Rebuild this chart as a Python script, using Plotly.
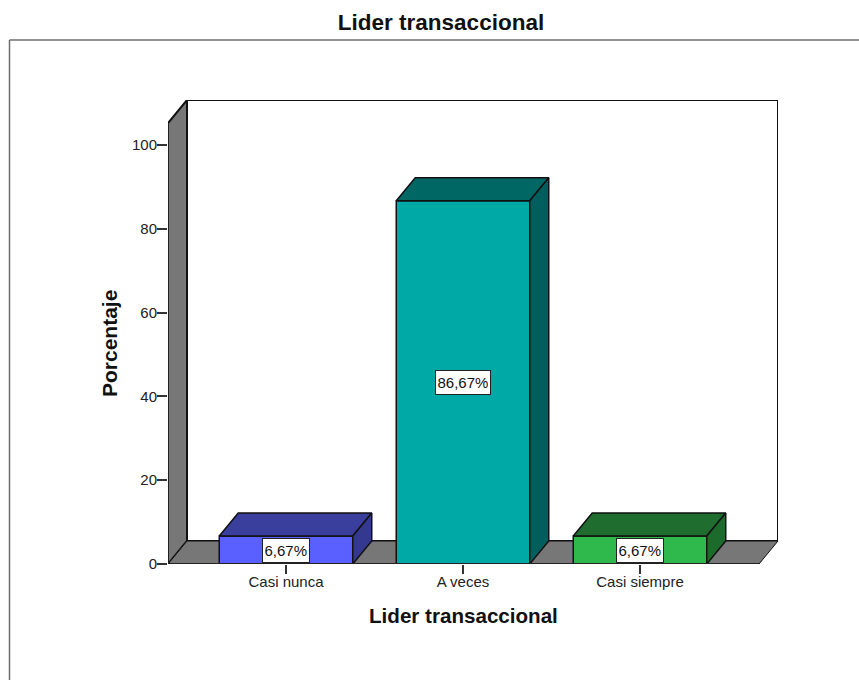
import plotly.graph_objects as go

# Chart data
categories = ["Casi nunca", "A veces", "Casi siempre"]
percentages = [6.67, 86.67, 6.67]
value_labels = ["6,67%", "86,67%", "6,67%"]
y_ticks = [0, 20, 40, 60, 80, 100]

# Bar colours: front face and shaded depth faces
front_colors = ["#5A60FF", "#00A8A6", "#2FB84C"]
top_colors = ["#3A3F9E", "#006765", "#1F6E30"]
side_colors = ["#34398F", "#005F5D", "#1D6B2C"]

WIDTH, HEIGHT = 859, 680
LEFT, RIGHT, TOP, BOTTOM = 168, 778, 100, 564
UNIT_X = 177.0           # pixels per category step
UNIT_Y = 4.19            # pixels per percentage point
CENTER_FIRST = 286.0     # pixel centre of the first category

x_min = (LEFT - CENTER_FIRST) / UNIT_X
x_max = (RIGHT - CENTER_FIRST) / UNIT_X
y_max = (BOTTOM - TOP) / UNIT_Y

# Oblique projection offset of the 3D box, in axis units
dx = 19 / UNIT_X
dy = 23 / UNIT_Y
bar_width = 133.5 / UNIT_X
front_right = x_max - dx
front_top = y_max - dy
EDGE = "#111111"
WALL = "#777777"
FRAME = "#6E6E6E"


def path(points):
    return "M " + " L ".join(f"{x},{y}" for x, y in points) + " Z"


def paper_x(px):
    return (px - LEFT) / (RIGHT - LEFT)


def paper_y(px):
    return (BOTTOM - px) / (BOTTOM - TOP)


fig = go.Figure()

shapes = [
    # Back wall, left wall and floor of the box, beneath the bars
    dict(type="path", xref="x", yref="y", layer="below", fillcolor="white",
         line=dict(color=EDGE, width=2),
         path=path([(x_min + dx, dy), (x_max, dy), (x_max, y_max), (x_min + dx, y_max)])),
    dict(type="path", xref="x", yref="y", layer="below", fillcolor=WALL,
         line=dict(color=EDGE, width=2),
         path=path([(x_min, 0), (x_min + dx, dy), (x_min + dx, y_max), (x_min, front_top)])),
    dict(type="path", xref="x", yref="y", layer="below", fillcolor=WALL,
         line=dict(color=EDGE, width=1),
         path=path([(x_min, 0), (front_right, 0), (x_max, dy), (x_min + dx, dy)])),
    # Outer chart frame
    dict(type="line", xref="paper", yref="paper", layer="below",
         x0=paper_x(9.5), x1=paper_x(9.5), y0=paper_y(HEIGHT), y1=paper_y(40),
         line=dict(color=FRAME, width=1.5)),
    dict(type="line", xref="paper", yref="paper", layer="below",
         x0=paper_x(9.5), x1=paper_x(WIDTH), y0=paper_y(40), y1=paper_y(40),
         line=dict(color=FRAME, width=1.5)),
]

# Front faces of the bars
positions = list(range(len(categories)))
fig.add_trace(go.Bar(
    x=positions, y=percentages, width=bar_width,
    marker=dict(color=front_colors, line=dict(color=EDGE, width=1.5)),
    hoverinfo="skip", showlegend=False,
))

# Top and side faces derived from each bar's value
for pos, value, top_c, side_c in zip(positions, percentages, top_colors, side_colors):
    x0, x1 = pos - bar_width / 2, pos + bar_width / 2
    fig.add_trace(go.Scatter(
        x=[x0, x1, x1 + dx, x0 + dx, x0], y=[value, value, value + dy, value + dy, value],
        mode="lines", fill="toself", fillcolor=top_c, line=dict(color=EDGE, width=1.5),
        hoverinfo="skip", showlegend=False,
    ))
    fig.add_trace(go.Scatter(
        x=[x1, x1 + dx, x1 + dx, x1, x1], y=[0, dy, value + dy, value, 0],
        mode="lines", fill="toself", fillcolor=side_c, line=dict(color=EDGE, width=1.5),
        hoverinfo="skip", showlegend=False,
    ))

# Front edges of the box, kept on top of the plot-area clip
fig.add_trace(go.Scatter(
    x=[x_min, x_min, front_right], y=[front_top, 0, 0],
    mode="lines", line=dict(color="#222222", width=2), cliponaxis=False,
    hoverinfo="skip", showlegend=False,
))

# Boxed value labels at mid-height of each bar
annotations = [
    dict(x=pos, y=value / 2, xref="x", yref="y", text=label, showarrow=False,
         font=dict(family="Liberation Sans", size=15, color="#111111"),
         height=20, bgcolor="white", bordercolor="#222222", borderwidth=1, borderpad=1.5)
    for pos, value, label in zip(positions, percentages, value_labels)
]

# Axis titles sit off-centre relative to the plot area, so they are placed directly
annotations += [
    dict(x=paper_x(463), y=paper_y(615.5), xref="paper", yref="paper", showarrow=False,
         xanchor="center", yanchor="middle",
         text="<b>Lider transaccional</b>", font=dict(size=20.6, color="#111111")),
    dict(x=paper_x(109), y=paper_y(344), xref="paper", yref="paper", showarrow=False,
         xanchor="center", yanchor="middle",
         text="<b>Porcentaje</b>", textangle=-90, font=dict(size=21, color="#111111")),
]

fig.update_layout(
    width=WIDTH, height=HEIGHT,
    margin=dict(l=LEFT, r=WIDTH - RIGHT, t=TOP, b=HEIGHT - BOTTOM, pad=0),
    paper_bgcolor="white", plot_bgcolor="white",
    shapes=shapes, annotations=annotations,
    font=dict(family="Liberation Sans", color="#222222"),
    title=dict(text="<b>Lider transaccional</b>", font=dict(size=22.5, color="#111111"),
               xref="paper", yref="container", x=paper_x(441),
               xanchor="center", y=1 - 22 / HEIGHT, yanchor="middle"),
    xaxis=dict(
        range=[x_min, x_max], tickmode="array", tickvals=positions, ticktext=categories,
        showgrid=False, zeroline=False, showline=False,
        ticks="outside", ticklen=9, tickwidth=1.5, tickcolor="#333333",
        tickfont=dict(size=15, color="#222222"), ticklabelstandoff=-5,
    ),
    yaxis=dict(
        range=[0, y_max], tickmode="array", tickvals=y_ticks,
        showgrid=False, zeroline=False, showline=False,
        ticks="outside", ticklen=10, tickwidth=1.5, tickcolor="#333333",
        tickfont=dict(size=15, color="#222222"), ticklabelstandoff=-3,
    ),
)

fig.write_html("out.html", config=dict(displayModeBar=False))
